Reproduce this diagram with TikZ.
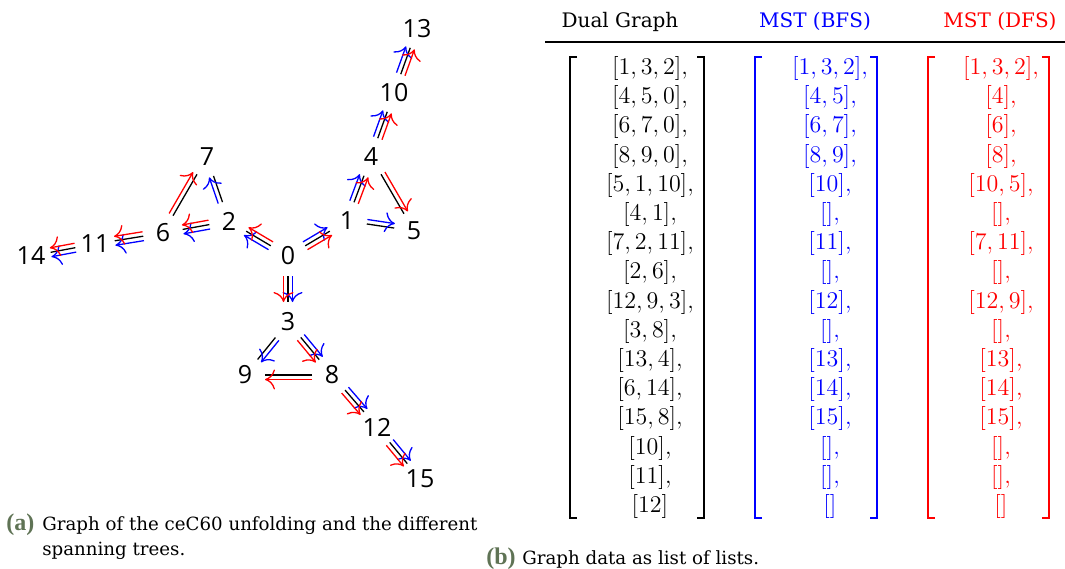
\documentclass[tikz,border=0pt]{standalone}
\usepackage[no-math]{fontspec}
\setmainfont{DejaVu Serif}
\newfontfamily\vtxfont{Open Sans}
\newfontfamily\labfont{Liberation Serif}
\usetikzlibrary{arrows.meta, calc}
\definecolor{capgreen}{RGB}{95, 115, 85}
\definecolor{bfsblue}{RGB}{0, 0, 255}
\definecolor{dfsred}{RGB}{255, 0, 0}

\begin{document}
\begin{tikzpicture}[
        x=0.5pt, y=-0.5pt,
        vtx/.style={font=\vtxfont\fontsize{12.5}{14}\selectfont, inner sep=0pt},
        lane/.style={to path={($(\tikztostart)!#1!90:(\tikztotarget)$) -- ($(\tikztotarget)!#1!-90:(\tikztostart)$)}},
        link/.style={line width=0.65pt, shorten <=10pt, shorten >=10pt},
        bfs/.style={link, draw=bfsblue, -{To[length=5pt,width=10pt]}},
        dfs/.style={link, draw=dfsred, -{To[length=5pt,width=10pt]}},
        cell/.style={inner sep=0pt, font=\fontsize{11.5}{13}\selectfont},
        colhead/.style={anchor=base, font=\fontsize{10}{12}\selectfont},
        brk/.style={line width=1pt},
        capt/.style={anchor=base west, inner sep=0pt, font=\fontsize{9.1}{12.5}\selectfont},
        captlab/.style={anchor=base west, inner sep=0pt, text=capgreen, font=\labfont\bfseries\fontsize{12}{14}\selectfont}
    ]
    \useasboundingbox (0,0) rectangle (1065,568);
    % graph of the unfolding
    \node[vtx] (v0) at (288,256) {0};
    \node[vtx] (v1) at (347,221) {1};
    \node[vtx] (v2) at (229,221) {2};
    \node[vtx] (v3) at (288,322) {3};
    \node[vtx] (v4) at (371,157) {4};
    \node[vtx] (v5) at (414,231) {5};
    \node[vtx] (v6) at (163,233) {6};
    \node[vtx] (v7) at (207,157) {7};
    \node[vtx] (v8) at (332,375) {8};
    \node[vtx] (v9) at (245,375) {9};
    \node[vtx] (v10) at (394,93) {10};
    \node[vtx] (v11) at (95,244) {11};
    \node[vtx] (v12) at (377,427) {12};
    \node[vtx] (v13) at (417,29) {13};
    \node[vtx] (v14) at (31,256) {14};
    \node[vtx] (v15) at (420,479) {15};
    \foreach \a/\b in {0/1,0/2,0/3,1/4,1/5,4/5,2/6,2/7,6/7,3/8,3/9,8/9,4/10,6/11,8/12,10/13,11/14,12/15}
        \draw[link] (v\a) to[lane=0pt] (v\b);
    \foreach \a/\b in {0/1,0/2,0/3,1/4,1/5,2/6,2/7,3/8,3/9,4/10,6/11,8/12,10/13,11/14,12/15}
        \draw[bfs] (v\a) to[lane=2.25pt] (v\b);
    \foreach \a/\b in {0/1,0/2,0/3,1/4,2/6,3/8,4/10,6/11,8/12,10/13,11/14,12/15}
        \draw[dfs] (v\a) to[lane=-2.25pt] (v\b);
    \foreach \a/\b in {4/5,6/7,8/9}
        \draw[dfs] (v\a) to[lane=2.25pt] (v\b);
    % lists of lists
    \node[colhead] (hdual) at (620,27) {Dual Graph};
    \node[colhead, text=bfsblue] (hbfs) at (815,27) {MST (BFS)};
    \node[colhead, text=dfsred] (hdfs) at (1000,27) {MST (DFS)};
    \draw[line width=0.6pt] (545,42) -- (1065,42);
    \foreach \txt [count=\i from 0] in {{[1,3,2],},{[4,5,0],},{[6,7,0],},{[8,9,0],},{[5,1,10],},{[4,1],},{[7,2,11],},{[2,6],},{[12,9,3],},{[3,8],},{[13,4],},{[6,14],},{[15,8],},{[10],},{[11],},{[12]}}
        \node[cell] (d\i) at (650,68.5+29.2*\i) {$\txt$};
    \foreach \txt [count=\i from 0] in {{[1,3,2],},{[4,5],},{[6,7],},{[8,9],},{[10],},{[],},{[11],},{[],},{[12],},{[],},{[13],},{[14],},{[15],},{[],},{[],},{[]}}
        \node[cell, text=bfsblue] (b\i) at (830,68.5+29.2*\i) {$\txt$};
    \foreach \txt [count=\i from 0] in {{[1,3,2],},{[4],},{[6],},{[8],},{[10,5],},{[],},{[7,11],},{[],},{[12,9],},{[],},{[13],},{[14],},{[15],},{[],},{[],},{[]}}
        \node[cell, text=dfsred] (f\i) at (1001,68.5+29.2*\i) {$\txt$};
    \draw[brk] (577,57) -- (570,57) -- (570,518) -- (577,518);
    \draw[brk] (697,57) -- (704,57) -- (704,518) -- (697,518);
    \draw[brk, bfsblue] (762,57) -- (755,57) -- (755,518) -- (762,518);
    \draw[brk, bfsblue] (870,57) -- (877,57) -- (877,518) -- (870,518);
    \draw[brk, dfsred] (935,57) -- (928,57) -- (928,518) -- (935,518);
    \draw[brk, dfsred] (1042,57) -- (1049,57) -- (1049,518) -- (1042,518);
    % captions
    \node[captlab] (capa) at (6,530) {(a)};
    \node[capt] (capa1) at (42,530) {Graph of the ceC60 unfolding and the different};
    \node[capt] (capa2) at (42,555) {spanning trees.};
    \node[captlab] (capb) at (486,564) {(b)};
    \node[capt] (capb1) at (522,564) {Graph data as list of lists.};
\end{tikzpicture}
\end{document}
